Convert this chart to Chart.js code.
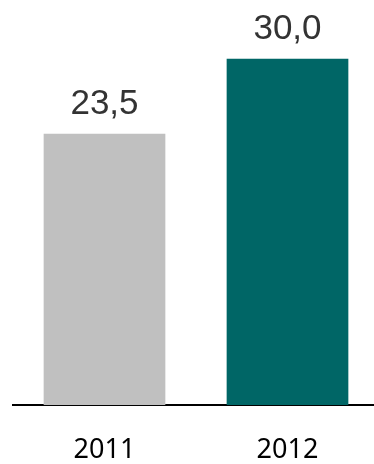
<!DOCTYPE html>
<html>
<head>
<meta charset="utf-8">
<script src="https://cdn.jsdelivr.net/npm/chart.js@4"></script>
<style>
html,body{margin:0;padding:0;background:#fff;overflow:hidden;width:374px;height:464px;}
#wrap{position:relative;width:379px;height:495px;}
</style>
</head>
<body>
<div id="wrap"><canvas id="c"></canvas></div>
<script>
const categories = ['2011', '2012'];
const values = [23.5, 30.0];
const valueLabels = ['23,5', '30,0'];
const barColors = ['#c0c0c0', '#006666'];

const valueLabelPlugin = {
  id: 'valueLabels',
  afterDatasetsDraw(chart) {
    const ctx = chart.ctx;
    const meta = chart.getDatasetMeta(0);
    ctx.save();
    ctx.font = '35px "Liberation Sans", Arial, sans-serif';
    ctx.fillStyle = '#333333';
    ctx.textAlign = 'center';
    ctx.textBaseline = 'alphabetic';
    meta.data.forEach((bar, i) => {
      ctx.fillText(valueLabels[i], bar.x, bar.y - 20);
    });
    ctx.restore();
  }
};

new Chart(document.getElementById('c'), {
  type: 'bar',
  data: {
    labels: categories,
    datasets: [{
      data: values,
      backgroundColor: barColors,
      borderWidth: 0,
      barPercentage: 0.665,
      categoryPercentage: 1.0
    }]
  },
  options: {
    responsive: true,
    maintainAspectRatio: false,
    animation: false,
    events: [],
    layout: { padding: { left: 13, right: 0, top: 1, bottom: 0 } },
    plugins: { legend: { display: false }, tooltip: { enabled: false } },
    scales: {
      x: {
        grid: { display: false, drawTicks: false },
        border: { display: true, color: '#000000', width: 2 },
        ticks: {
          color: '#000000',
          padding: 31.5,
          font: { family: '"Noto Sans", sans-serif', size: 27, lineHeight: 1 }
        }
      },
      y: {
        display: false,
        min: 0,
        max: 35
      }
    }
  },
  plugins: [valueLabelPlugin]
});
</script>
</body>
</html>
